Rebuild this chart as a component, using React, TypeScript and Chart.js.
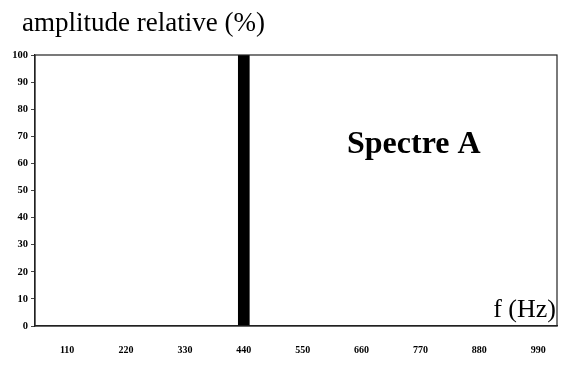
import React, { useEffect, useRef } from "react";
import { Chart, registerables } from "chart.js";

Chart.register(...registerables);

const frequencies = [440];
const amplitudes = [100];
const xTicks = [110, 220, 330, 440, 550, 660, 770, 880, 990];
const yTicks = [0, 10, 20, 30, 40, 50, 60, 70, 80, 90, 100];
const yTitle = "amplitude relative (%)";
const xTitle = "f (Hz)";
const chartLabel = "Spectre A";

const overlay = {
  id: "overlay",
  afterDraw(chart: any) {
    const { ctx, chartArea } = chart;
    ctx.save();
    ctx.strokeStyle = "#222";
    ctx.lineWidth = 1.2;
    ctx.strokeRect(chartArea.left, chartArea.top, chartArea.right - chartArea.left, chartArea.bottom - chartArea.top);
    ctx.fillStyle = "#000";
    ctx.textBaseline = "alphabetic";
    ctx.textAlign = "left";
    ctx.font = "27px 'Liberation Serif', serif";
    ctx.fillText(yTitle, 22, 31);
    ctx.font = "bold 32px 'Liberation Serif', serif";
    ctx.fillText(chartLabel, 347, 153);
    ctx.textAlign = "right";
    ctx.font = "26px 'Liberation Serif', serif";
    ctx.fillText(xTitle, 556, 317);
    ctx.restore();
  },
};

export default function App() {
  const ref = useRef<HTMLCanvasElement>(null);
  useEffect(() => {
    document.body.style.margin = "0";
    const chart = new Chart(ref.current!, {
      type: "bar",
      data: {
        datasets: [
          {
            data: frequencies.map((f, i) => ({ x: f, y: amplitudes[i] })),
            backgroundColor: "#000",
            borderWidth: 0,
            barThickness: 11,
          },
        ],
      },
      options: {
        animation: false,
        responsive: false,
        maintainAspectRatio: false,
        layout: { padding: { top: 55, right: 16, left: 0, bottom: 0 } },
        plugins: { legend: { display: false }, tooltip: { enabled: false }, title: { display: false } },
        scales: {
          x: {
            type: "linear",
            min: 50,
            max: 1025,
            offset: false,
            afterBuildTicks: (s: any) => {
              s.ticks = xTicks.map((v) => ({ value: v }));
            },
            afterFit: (s: any) => {
              s.height = 49;
            },
            grid: { display: true, drawOnChartArea: false, drawTicks: false },
            border: { display: true, color: "#222", width: 1.2 },
            ticks: {
              color: "#000",
              padding: 18,
              maxRotation: 0,
              autoSkip: false,
              font: { family: "'Liberation Serif', serif", size: 10, weight: "bold" },
            },
          },
          y: {
            min: 0,
            max: 100,
            afterBuildTicks: (s: any) => {
              s.ticks = yTicks.map((v) => ({ value: v }));
            },
            afterFit: (s: any) => {
              s.width = 35;
            },
            grid: { display: true, drawOnChartArea: false, drawTicks: true, tickLength: 4, color: "#444" },
            border: { display: true, color: "#222", width: 1.2 },
            ticks: {
              color: "#000",
              padding: 3,
              autoSkip: false,
              font: { family: "'Liberation Serif', serif", size: 10.5, weight: "bold" },
            },
          },
        },
      },
      plugins: [overlay],
    });
    return () => chart.destroy();
  }, []);
  return (
    <div style={{ position: "relative", width: 573, height: 375 }}>
      <canvas ref={ref} width={573} height={375} style={{ display: "block", width: 573, height: 375 }} />
    </div>
  );
}
